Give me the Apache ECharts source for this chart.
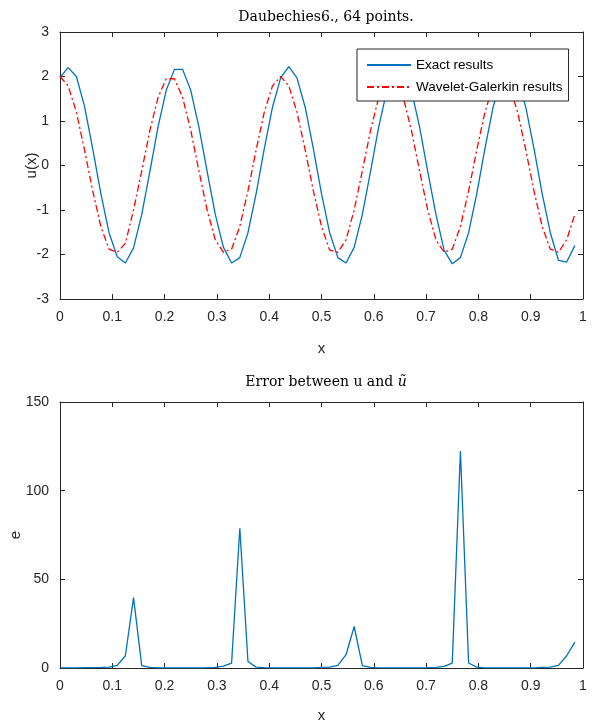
<!DOCTYPE html>
<html>
<head>
<meta charset="utf-8">
<script src="https://cdn.jsdelivr.net/npm/echarts@6/dist/echarts.min.js"></script>
<style>
  html, body { margin: 0; padding: 0; background: #ffffff; }
  #chart { width: 592px; height: 727px; }
</style>
</head>
<body>
<div id="chart"></div>
<script>
// Sample grid: 64 points on [0, 1)
const xs = [
  0.0000, 0.0156, 0.0313, 0.0469, 0.0625, 0.0781, 0.0938, 0.1094,
  0.1250, 0.1406, 0.1563, 0.1719, 0.1875, 0.2031, 0.2188, 0.2344,
  0.2500, 0.2656, 0.2813, 0.2969, 0.3125, 0.3281, 0.3438, 0.3594,
  0.3750, 0.3906, 0.4063, 0.4219, 0.4375, 0.4531, 0.4688, 0.4844,
  0.5000, 0.5156, 0.5313, 0.5469, 0.5625, 0.5781, 0.5938, 0.6094,
  0.6250, 0.6406, 0.6563, 0.6719, 0.6875, 0.7031, 0.7188, 0.7344,
  0.7500, 0.7656, 0.7813, 0.7969, 0.8125, 0.8281, 0.8438, 0.8594,
  0.8750, 0.8906, 0.9063, 0.9219, 0.9375, 0.9531, 0.9688, 0.9844
];

// Exact solution u(x)
const exactU = [
  1.98, 2.20, 2.00, 1.33, 0.38, -0.63, -1.51, -2.05,
  -2.19, -1.85, -1.10, -0.13, 0.87, 1.69, 2.16, 2.16,
  1.69, 0.87, -0.13, -1.10, -1.84, -2.19, -2.07, -1.51,
  -0.63, 0.38, 1.31, 1.97, 2.22, 1.97, 1.31, 0.38,
  -0.63, -1.51, -2.07, -2.19, -1.84, -1.10, -0.13, 0.87,
  1.69, 2.14, 2.14, 1.69, 0.87, -0.13, -1.10, -1.90,
  -2.21, -2.07, -1.51, -0.63, 0.38, 1.31, 1.97, 2.20,
  1.97, 1.31, 0.38, -0.63, -1.51, -2.13, -2.17, -1.80
];

// Wavelet-Galerkin approximation
const waveletU = [
  2.00, 1.79, 1.20, 0.35, -0.57, -1.37, -1.88, -1.95,
  -1.75, -1.00, -0.12, 0.79, 1.53, 1.95, 1.95, 1.53,
  0.79, -0.12, -1.00, -1.67, -1.95, -1.88, -1.37, -0.57,
  0.35, 1.20, 1.79, 2.00, 1.79, 1.20, 0.35, -0.57,
  -1.37, -1.90, -1.95, -1.67, -1.00, -0.12, 0.79, 1.53,
  1.95, 1.95, 1.53, 0.79, -0.12, -1.00, -1.67, -1.95,
  -1.88, -1.37, -0.57, 0.35, 1.20, 1.79, 2.00, 1.79,
  1.20, 0.35, -0.57, -1.37, -1.88, -1.95, -1.67, -1.10
];

// Error e between u and u~
const errorE = [
  0.1, 0.1, 0.1, 0.2, 0.2, 0.3, 0.5, 1.5,
  6.9, 39.7, 1.3, 0.3, 0.1, 0.1, 0.1, 0.1,
  0.1, 0.1, 0.2, 0.4, 1.0, 2.8, 78.8, 3.7,
  0.5, 0.2, 0.1, 0.1, 0.1, 0.1, 0.1, 0.1,
  0.3, 0.5, 1.5, 7.5, 23.4, 1.3, 0.3, 0.1,
  0.1, 0.1, 0.1, 0.1, 0.1, 0.2, 0.4, 0.9,
  2.8, 122.3, 2.8, 0.5, 0.1, 0.1, 0.1, 0.1,
  0.1, 0.1, 0.1, 0.3, 0.5, 1.5, 6.9, 14.6
];

const xTicks = { min: 0, max: 1, interval: 0.1 };
const uTicks = { min: -3, max: 3, interval: 1 };
const eTicks = { min: 0, max: 150, interval: 50 };

const pairs = (ys) => xs.map((x, i) => [x, ys[i]]);

const AXIS_COLOR = '#262626';
const LABEL_FONT = 'Liberation Sans, Arial, Helvetica, sans-serif';
const SERIF_FONT = 'DejaVu Serif, Liberation Serif, serif';

// Boxed axes: labelled bottom/left, bare ticks on top/right
function boxAxis(gridIndex, position, ticks, extra) {
  const shown = position === 'bottom' || position === 'left';
  return Object.assign({
    type: 'value',
    gridIndex: gridIndex,
    position: position,
    min: ticks.min,
    max: ticks.max,
    interval: ticks.interval,
    nameMoveOverlap: false,
    axisLine: { show: true, onZero: false, lineStyle: { color: AXIS_COLOR, width: 1 } },
    axisTick: { show: true, inside: true, length: 5, lineStyle: { color: AXIS_COLOR } },
    axisLabel: {
      show: shown,
      color: AXIS_COLOR,
      fontFamily: LABEL_FONT,
      fontSize: 14,
      margin: 11
    },
    splitLine: { show: false }
  }, extra || {});
}

const nameStyle = { color: AXIS_COLOR, fontFamily: LABEL_FONT, fontSize: 15 };

const chart = echarts.init(document.getElementById('chart'), null, { renderer: 'canvas' });

chart.setOption({
  animation: false,
  backgroundColor: '#ffffff',
  title: [
    {
      text: 'Daubechies6., 64 points.',
      left: 321, top: 5, textAlign: 'center',
      textStyle: { fontFamily: SERIF_FONT, fontSize: 14, fontWeight: 'normal', color: '#000' }
    },
    {
      text: 'Error between u and {t|ũ}',
      left: 321, top: 370, textAlign: 'center',
      textStyle: {
        fontFamily: SERIF_FONT, fontSize: 14, fontWeight: 'normal', color: '#000',
        rich: { t: { fontFamily: SERIF_FONT, fontStyle: 'italic', fontSize: 14, color: '#000' } }
      }
    }
  ],
  legend: {
    data: ['Exact results', 'Wavelet-Galerkin results'],
    orient: 'vertical',
    left: 357, top: 49,
    padding: [9, 6, 7, 9],
    itemGap: 8,
    itemWidth: 44,
    itemHeight: 14,
    backgroundColor: '#ffffff',
    borderColor: AXIS_COLOR,
    borderWidth: 1,
    borderRadius: 0,
    itemStyle: { color: 'transparent', borderColor: 'transparent', borderWidth: 0, opacity: 0 },
    textStyle: { fontFamily: LABEL_FONT, fontSize: 13.5, color: '#000' }
  },
  grid: [
    { left: 60, top: 32, width: 523, height: 267, outerBoundsMode: 'none', containLabel: false },
    { left: 60, top: 402, width: 523, height: 266, outerBoundsMode: 'none', containLabel: false }
  ],
  xAxis: [
    boxAxis(0, 'bottom', xTicks, {
      name: 'x', nameLocation: 'middle', nameGap: 42, nameTextStyle: nameStyle
    }),
    boxAxis(0, 'top', xTicks),
    boxAxis(1, 'bottom', xTicks, {
      name: 'x', nameLocation: 'middle', nameGap: 40, nameTextStyle: nameStyle
    }),
    boxAxis(1, 'top', xTicks)
  ],
  yAxis: [
    boxAxis(0, 'left', uTicks, {
      name: 'u(x)', nameLocation: 'middle', nameGap: 21, nameTextStyle: nameStyle
    }),
    boxAxis(0, 'right', uTicks),
    boxAxis(1, 'left', eTicks, {
      name: 'e', nameLocation: 'middle', nameGap: 37, nameTextStyle: nameStyle
    }),
    boxAxis(1, 'right', eTicks)
  ],
  series: [
    {
      name: 'Exact results',
      type: 'line',
      xAxisIndex: 0, yAxisIndex: 0,
      data: pairs(exactU),
      showSymbol: false, symbol: 'none',
      lineStyle: { color: '#0072bd', width: 1.3 },
      itemStyle: { color: '#0072bd' },
      z: 3
    },
    {
      name: 'Wavelet-Galerkin results',
      type: 'line',
      xAxisIndex: 0, yAxisIndex: 0,
      data: pairs(waveletU),
      showSymbol: false, symbol: 'none',
      lineStyle: { color: '#ff0000', width: 1.3, type: [7, 3, 2, 3] },
      itemStyle: { color: '#ff0000' },
      z: 3
    },
    {
      name: 'e',
      type: 'line',
      xAxisIndex: 2, yAxisIndex: 2,
      data: pairs(errorE),
      showSymbol: false, symbol: 'none',
      lineStyle: { color: '#0072bd', width: 1.3 },
      itemStyle: { color: '#0072bd' },
      z: 3
    }
  ]
});
</script>
</body>
</html>
